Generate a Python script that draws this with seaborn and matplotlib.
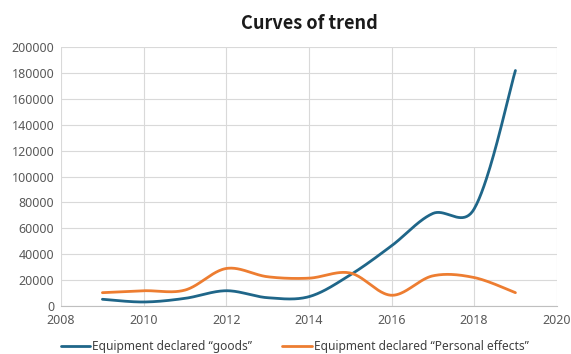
import numpy as np
import pandas as pd
import matplotlib
matplotlib.use("Agg")
import matplotlib.pyplot as plt
import seaborn as sns

years = [2009, 2010, 2011, 2012, 2013, 2014, 2015, 2016, 2017, 2018, 2019]
goods = [5200, 3100, 5900, 11800, 6400, 7200, 24000, 46500, 71500, 75000, 182000]
personal = [10300, 11800, 12300, 29000, 22600, 21500, 25500, 8300, 23300, 22000, 10300]
series_names = ["Equipment declared \u201cgoods\u201d", "Equipment declared \u201cPersonal effects\u201d"]
colors = ["#1F6689", "#ED7D31"]
x_ticks = [2008, 2010, 2012, 2014, 2016, 2018, 2020]
y_ticks = list(range(0, 200001, 20000))

# approximate screen scale (px per unit) for chord-length smoothing
SX, SY = 41.5, 1.295 / 1000
BLEND = 0.7  # weight of uniform Catmull-Rom tangent vs chord-length tangent


def smooth(xs, ys, n=40):
    # Bezier smoothing used only for rendering the line through the data points
    x = np.asarray(xs, float) * SX
    y = np.asarray(ys, float) * SY
    P = np.column_stack([x, y])
    P = np.vstack([P[0], P, P[-1]])
    t = np.linspace(0, 1, n, endpoint=False)
    pts = []
    for i in range(1, len(P) - 2):
        p0, p3 = P[i], P[i + 1]
        d01 = np.linalg.norm(P[i] - P[i - 1])
        d12 = np.linalg.norm(P[i + 1] - P[i])
        d23 = np.linalg.norm(P[i + 2] - P[i + 1])
        c1 = d12 / (d01 + d12) / 3 if d01 > 0 else 1 / 6
        c2 = d12 / (d12 + d23) / 3 if d23 > 0 else 1 / 6
        f1 = BLEND / 6 + (1 - BLEND) * c1
        f2 = BLEND / 6 + (1 - BLEND) * c2
        p1 = p0 + (P[i + 1] - P[i - 1]) * f1
        p2 = p3 - (P[i + 2] - P[i]) * f2
        b = ((1 - t) ** 3)[:, None] * p0 + (3 * (1 - t) ** 2 * t)[:, None] * p1 \
            + (3 * (1 - t) * t ** 2)[:, None] * p2 + (t ** 3)[:, None] * p3
        pts.append(b)
    pts.append(P[-2][None, :])
    pts = np.vstack(pts)
    return pts[:, 0] / SX, pts[:, 1] / SY


frames = []
for name, vals in zip(series_names, [goods, personal]):
    sx, sy = smooth(years, vals)
    frames.append(pd.DataFrame({"year": sx, "value": sy, "series": name}))
df = pd.concat(frames, ignore_index=True)

sns.set_style("white")
plt.rcParams['font.family'] = ['Noto Sans', 'DejaVu Sans']

fig = plt.figure(figsize=(5.71, 3.54), dpi=100)
ax = fig.add_axes([0.107, 0.1356, 0.868, 0.731])

sns.lineplot(data=df, x="year", y="value", hue="series", palette=colors,
             linewidth=2.0, ax=ax, sort=False, estimator=None)

ax.set_xlim(2008, 2020)
ax.set_ylim(0, 200000)
ax.set_xticks(x_ticks)
ax.set_yticks(y_ticks)
ax.set_xticklabels([str(v) for v in x_ticks])
ax.set_yticklabels([str(v) for v in y_ticks])
ax.tick_params(axis='both', labelsize=9, colors="#595959", length=0)
ax.tick_params(axis='x', pad=6)
ax.tick_params(axis='y', pad=5)
ax.grid(True, color="#d9d9d9", linewidth=0.8)
ax.set_axisbelow(True)
for s in ["top", "right", "left"]:
    ax.spines[s].set_visible(False)
ax.spines["bottom"].set_color("#bfbfbf")
ax.spines["bottom"].set_linewidth(0.8)
ax.set_xlabel("")
ax.set_ylabel("")

ax.set_title("Curves of trend", fontsize=13, fontweight="bold", color="#1a1a1a", pad=13,
             family=['Noto Sans CJK SC', 'DejaVu Sans'])

handles, labels = ax.get_legend_handles_labels()
ax.legend(handles, labels, loc="center", bbox_to_anchor=(0.471, -0.158),
          ncol=2, frameon=False, fontsize=8.6, handlelength=2.5, handletextpad=0.15,
          columnspacing=2.5, labelcolor="#404040")

fig.savefig("out.png", dpi=100)
